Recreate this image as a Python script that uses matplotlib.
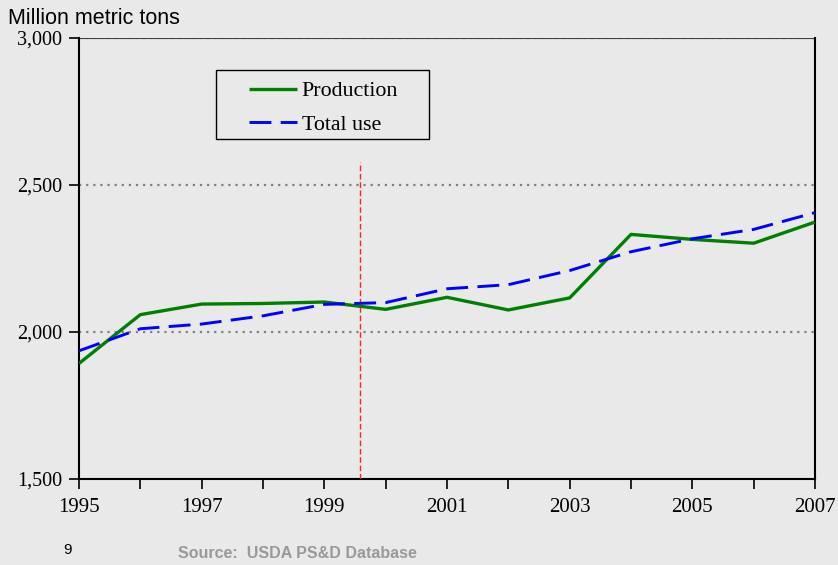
import matplotlib
matplotlib.use("Agg")
import matplotlib.pyplot as plt
from matplotlib.patches import Rectangle
from matplotlib.ticker import FuncFormatter, FixedLocator, MultipleLocator

years = [1995, 1996, 1997, 1998, 1999, 2000, 2001, 2002, 2003, 2004, 2005, 2006, 2007]
production = [1893, 2059, 2095, 2097, 2102, 2077, 2118, 2075, 2116, 2332, 2315, 2302, 2374]
total_use = [1936, 2011, 2027, 2055, 2094, 2100, 2147, 2161, 2209, 2273, 2317, 2349, 2406]
year_labels = [1995, 1997, 1999, 2001, 2003, 2005, 2007]
marker_year = 1999.58
marker_top = 2578

bg = "#e9e9e9"
serif = ["Liberation Serif", "DejaVu Serif"]
sans = ["Liberation Sans", "DejaVu Sans"]

W, H = 838, 565
fig = plt.figure(figsize=(W / 100, H / 100), dpi=100, facecolor=bg)
ax = fig.add_axes([79 / W, 86 / H, 736 / W, 441 / H], facecolor=bg)

ax.plot(years, production, color="#008000", lw=2.4, label="Production",
        solid_capstyle="butt", zorder=4)
ax.plot(years, total_use, color="#0000ff", lw=2.1, dashes=(7.5, 3.2), label="Total use",
        zorder=5)
ax.plot([marker_year, marker_year], [1500, marker_top], color="#ff2020", lw=1.0,
        dashes=(4, 2), zorder=3)

ax.set_xlim(1995, 2007)
ax.set_ylim(1500, 3000)
ax.xaxis.set_major_locator(FixedLocator(year_labels))
ax.xaxis.set_minor_locator(FixedLocator(years))
ax.yaxis.set_major_locator(MultipleLocator(500))
ax.yaxis.set_major_formatter(FuncFormatter(lambda v, p: f"{int(v):,}"))

for gy in (2000, 2500, 3000):
    ax.axhline(gy, color="#808080", lw=1.6, ls=(0, (1, 2.2)), zorder=1)
ax.axhline(3000, color="#404040", lw=0.8, zorder=1)

for side in ("left", "bottom", "right"):
    ax.spines[side].set_color("black")
    ax.spines[side].set_linewidth(1.5)
ax.spines["top"].set_visible(False)

ax.tick_params(axis="x", which="both", direction="out", length=7, width=1.2, pad=7,
               labelsize=15)
ax.tick_params(axis="y", which="major", direction="out", length=7, width=1.2, pad=5,
               labelsize=14.5)
for lab in ax.get_xticklabels() + ax.get_yticklabels():
    lab.set_fontfamily(serif)

# legend box with wide side margins
ax.add_patch(Rectangle((216 / W, 1 - 139 / H), 213 / W, 69 / H,
                       transform=fig.transFigure, facecolor=bg, clip_on=False,
                       edgecolor="black", lw=1.0, zorder=9))
leg = ax.legend(loc="upper left", bbox_to_anchor=(249 / W, 1 - 81 / H),
                bbox_transform=fig.transFigure,
                prop={"family": serif, "size": 15.8}, frameon=False, borderpad=0,
                handlelength=2.2, handletextpad=0.2, labelspacing=0.6,
                borderaxespad=0)
leg.set_zorder(10)

fig.text(8 / W, 1 - 18 / H, "Million metric tons", family=sans, fontsize=15.5,
         va="center", ha="left")
fig.text(63 / W, 1 - 550 / H, "9", family=sans, fontsize=11, va="center", ha="left")
fig.text(178 / W, 1 - 553 / H, "Source:  USDA PS&D Database", family=sans, fontsize=11.5,
         weight="bold", color="#999999", va="center", ha="left")

fig.savefig("out.png", dpi=100, facecolor=bg)
